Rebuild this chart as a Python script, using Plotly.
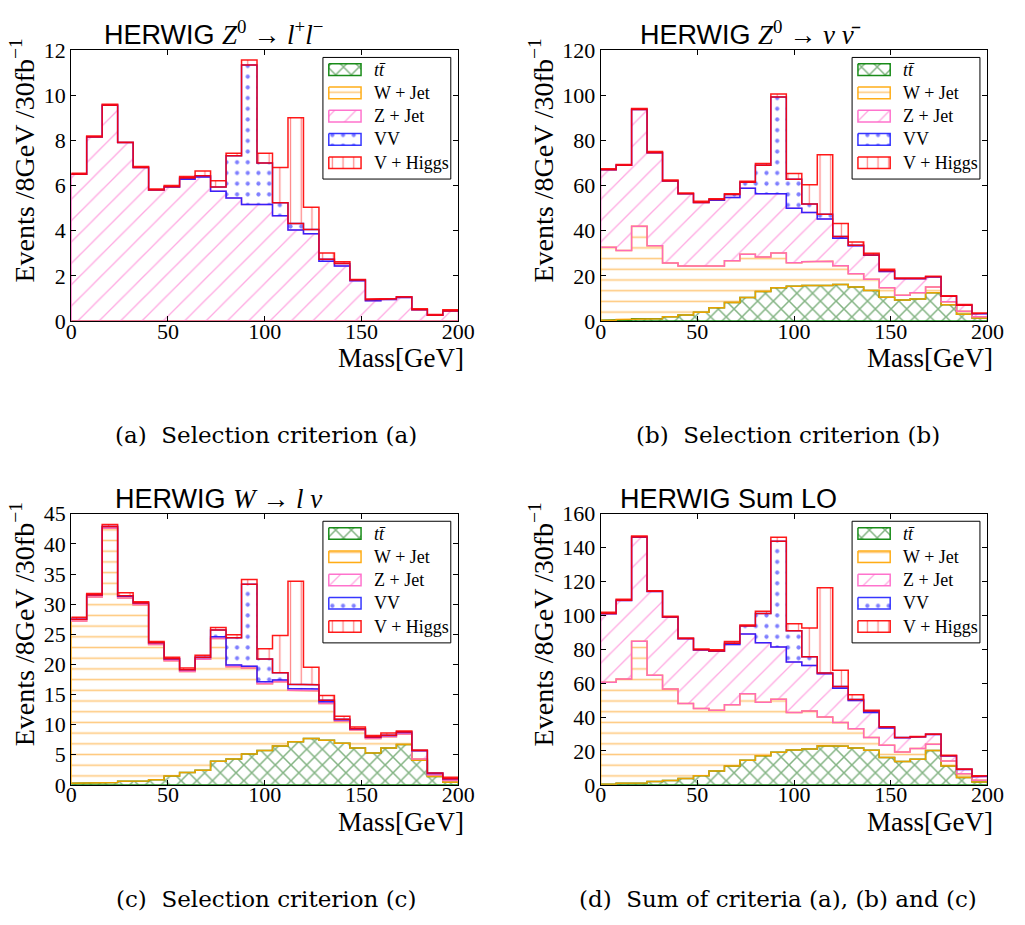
import plotly.graph_objects as go

FIG_W, FIG_H = 1025, 925

# 25 mass bins of 8 GeV between 0 and 200 GeV
bin_edges = list(range(0, 201, 8))

process_names = ["<i>tt̄</i>", "W + Jet", "Z + Jet", "VV", "V + Higgs"]

# ---- (a) Z0 -> l+ l- ----
tt_a = [0, 0, 0, 0, 0, 0, 0, 0, 0, 0, 0, 0, 0, 0, 0, 0, 0, 0, 0, 0, 0, 0, 0, 0, 0]
wj_a = [0, 0, 0, 0, 0, 0, 0, 0, 0, 0.03, 0, 0, 0, 0, 0, 0, 0, 0, 0, 0, 0, 0, 0.03, 0, 0]
zj_a = [6.50, 8.15, 9.55, 7.90, 6.80, 5.80, 5.93, 6.28, 6.38, 5.72, 5.45, 5.16, 5.16,
        4.66, 4.03, 3.87, 2.65, 2.44, 1.79, 0.90, 0.96, 1.05, 0.47, 0.26, 0.45]
vv_a = [0, 0, 0, 0, 0, 0, 0.02, 0.05, 0.05, 0.18, 1.87, 6.17, 1.84,
        0.58, 0.29, 0.18, 0.09, 0.11, 0.03, 0.05, 0.02, 0.02, 0, 0, 0]
vh_a = [0.04, 0.04, 0.05, 0.02, 0.04, 0.05, 0.05, 0.07, 0.21, 0.28, 0.11, 0.22, 0.43,
        1.56, 4.68, 0.99, 0.27, 0.08, 0.02, 0.03, 0.02, 0.01, 0.05, 0.03, 0.05]

# ---- (b) Z0 -> nu nubar ----
tt_b = [0.4, 0.7, 1.0, 1.0, 1.9, 2.7, 3.9, 5.9, 8.2, 10.5, 13.1, 14.8, 15.4,
        15.8, 15.8, 16.2, 15.1, 13.6, 10.6, 9.3, 9.8, 12.5, 7.2, 3.0, 1.4]
wj_b = [32.3, 30.6, 41.0, 32.4, 23.8, 21.7, 20.5, 18.5, 18.5, 19.1, 15.3, 15.3, 10.4,
        10.5, 10.7, 8.3, 5.9, 4.9, 4.2, 2.2, 2.8, 2.6, 1.4, 1.4, 0.5]
zj_b = [34.3, 37.7, 51.7, 41.1, 36.3, 32.0, 28.1, 29.1, 28.0, 29.2, 28.0, 26.3, 24.2,
        21.8, 18.7, 12.2, 12.4, 10.6, 7.2, 7.3, 6.2, 4.4, 2.4, 2.6, 1.4]
vv_b = [0, 0, 0, 0, 0, 0, 0, 0.3, 1.3, 2.7, 12.6, 42.8, 12.8,
        3.7, 2.1, 0.7, 0.2, 0.2, 0.3, 0.1, 0.1, 0.1, 0, 0, 0]
vh_b = [0.4, 0.3, 0.4, 0.6, 0.4, 0.3, 0.5, 0.3, 0.4, 0.4, 0.7, 1.3, 2.5,
        8.5, 26.3, 5.8, 1.4, 0.7, 0.7, 0.2, 0.2, 0.2, 0.2, 0.3, 0.3]

# ---- (c) W -> l nu ----
tt_c = [0.27, 0.3, 0.38, 0.6, 0.65, 0.86, 1.45, 2.05, 2.4, 3.9, 4.3, 5.1, 5.7,
        6.45, 7.15, 7.7, 7.4, 6.9, 6.1, 5.3, 6.1, 6.7, 4.1, 1.4, 0.43]
wj_c = [26.93, 30.9, 42.22, 30.4, 29.25, 22.44, 19.15, 16.75, 18.45, 20.4, 15.3, 14.3, 11.1,
        10.65, 8.55, 7.9, 6.1, 3.7, 3.0, 2.4, 1.9, 1.75, 0.2, 0.25, 0.27]
zj_c = [0.3, 0.3, 0.3, 0.3, 0.3, 0.3, 0.3, 0.3, 0.3, 0.3, 0.3, 0.3, 0.3,
        0.3, 0.3, 0.3, 0.3, 0.2, 0.15, 0.2, 0.2, 0.25, 1.35, 0.25, 0.27]
vv_c = [0, 0, 0, 0.1, 0, 0, 0.05, 0, 0.05, 1.1, 4.5, 13.6, 3.8,
        1.2, 0.7, 0.7, 0.25, 0.1, 0.05, 0.05, 0.05, 0.05, 0.05, 0.05, 0.03]
vh_c = [0.3, 0.25, 0.3, 0.5, 0.2, 0.2, 0.25, 0.3, 0.3, 0.4, 0.5, 0.8, 1.7,
        6.2, 17.1, 2.9, 0.8, 0.5, 0.28, 0.25, 0.35, 0.2, 0.1, 0.0, 0.24]

# ---- (d) sum of the three selections ----
tt_d = [0.4, 1.0, 1.1, 1.9, 2.5, 3.8, 5.4, 8.2, 11.1, 14.5, 17.2, 19.3, 20.5,
        21.1, 23.0, 22.8, 21.8, 20.4, 16.1, 13.8, 15.1, 20.2, 11.1, 4.4, 1.7]
wj_d = [60.1, 61.4, 83.7, 62.8, 54.0, 44.2, 39.6, 35.8, 36.2, 39.3, 31.6, 31.2, 22.2,
        22.5, 17.0, 14.0, 11.3, 7.6, 7.2, 5.6, 6.3, 3.7, 2.9, 2.1, 1.0]
zj_d = [40.5, 46.4, 61.4, 49.4, 42.4, 38.2, 34.6, 34.9, 35.6, 35.2, 35.0, 30.8, 29.8,
        26.8, 25.6, 20.2, 16.7, 14.7, 10.2, 8.4, 6.9, 5.8, 3.0, 2.5, 2.1]
vv_d = [0.1, 0.2, 0.1, 0.1, 0.1, 0.1, 0.2, 0.1, 0.6, 4.8, 17.3, 62.5, 18.4,
        5.2, 0.4, 1.0, 0.5, 0.9, 0.6, 0.1, 0.0, 0.1, 0.2, 0.2, 0.2]
vh_d = [0.8, 0.5, 0.5, 0.4, 0.5, 0.4, 0.4, 0.7, 1.1, 0.6, 1.4, 2.4, 4.2,
        16.9, 50.4, 9.6, 2.9, 0.4, 0.2, 0.1, 0.2, 0.2, 0.2, 0.2, 0.4]

SERIF = "Liberation Serif"
SANS = "Liberation Sans"
CAPTION_FONT = "DejaVu Serif"

# edge colour and hatch for each process, bottom of the stack first
styles = [
    dict(edge="rgba(0,128,0,0.9)", shape="x", fg="#0a6a0a", size=11.1, sol=0.26),
    dict(edge="rgba(255,165,0,0.9)", shape="-", fg="#ff9500", size=10.7, sol=0.15),
    dict(edge="rgba(255,100,200,0.9)", shape="/", fg="#ff55c6", size=15.1, sol=0.09),
    dict(edge="rgba(20,20,255,0.85)", shape=".", fg="#0000ff", size=10.7, sol=0.12),
    dict(edge="rgba(255,0,0,0.9)", shape="|", fg="#ff1010", size=10.7, sol=0.12),
]

# panel frames in pixels: (x0, x1) and (y_top, y_bottom)
LX, RX = (66.7, 462.7), (608.3, 1004.0)
TY, BY = (39.0, 317.7), (515.7, 794.3)

panels = [
    dict(series=[tt_a, wj_a, zj_a, vv_a, vh_a], xpx=LX, ypx=TY, ymax=12, dtick=2,
         title="HERWIG <span style=\"font-family:Liberation Serif\"><i>Z</i><sup>0</sup> → "
               "<i>l</i><sup>+</sup><i>l</i><sup>−</sup></span>",
         title_x=98, ylab_x=17, caption="(a)  Selection criterion (a)", cap_x=266),
    dict(series=[tt_b, wj_b, zj_b, vv_b, vh_b], xpx=RX, ypx=TY, ymax=120, dtick=20,
         title="HERWIG <span style=\"font-family:Liberation Serif\"><i>Z</i><sup>0</sup> → "
               "<i>ν</i> <i>ν̄</i></span>",
         title_x=646, ylab_x=548, caption="(b)  Selection criterion (b)", cap_x=800),
    dict(series=[tt_c, wj_c, zj_c, vv_c, vh_c], xpx=LX, ypx=BY, ymax=45, dtick=5,
         title="HERWIG <span style=\"font-family:Liberation Serif\"><i>W</i> → "
               "<i>l</i> <i>ν</i></span>",
         title_x=109, ylab_x=17, caption="(c)  Selection criterion (c)", cap_x=266),
    dict(series=[tt_d, wj_d, zj_d, vv_d, vh_d], xpx=RX, ypx=BY, ymax=160, dtick=20,
         title="HERWIG Sum LO",
         title_x=626, ylab_x=548, caption="(d)  Sum of criteria (a), (b) and (c)", cap_x=790),
]


def fx(p):
    return p / FIG_W


def fy(p):
    return 1 - p / FIG_H


def layer_polygon(lower, upper):
    """Closed step outline of one stacked histogram layer."""
    xs, ys = [], []
    for i in range(len(upper)):
        xs += [bin_edges[i], bin_edges[i + 1]]
        ys += [upper[i], upper[i]]
    for i in reversed(range(len(lower))):
        xs += [bin_edges[i + 1], bin_edges[i]]
        ys += [lower[i], lower[i]]
    xs.append(xs[0])
    ys.append(ys[0])
    return xs, ys


def pattern(st):
    return dict(shape=st["shape"], fgcolor=st["fg"], bgcolor="rgba(0,0,0,0)",
                size=st["size"], solidity=st["sol"], fillmode="overlay")


fig = go.Figure()
layout = dict(width=FIG_W, height=FIG_H, autosize=False,
              margin=dict(l=0, r=0, t=0, b=0),
              paper_bgcolor="white", plot_bgcolor="rgba(0,0,0,0)",
              showlegend=False, font=dict(family=SERIF, size=20, color="black"))
annotations, shapes = [], []

for n, p in enumerate(panels):
    sfx = "" if n == 0 else str(n + 1)
    xref, yref = "x" + sfx, "y" + sfx
    lower = [0.0] * (len(bin_edges) - 1)
    for vals, st in zip(p["series"], styles):
        upper = [lo + v for lo, v in zip(lower, vals)]
        xs, ys = layer_polygon(lower, upper)
        fig.add_trace(go.Scatter(
            x=xs, y=ys, mode="lines", fill="toself", fillcolor="rgba(0,0,0,0)",
            fillpattern=pattern(st), line=dict(color=st["edge"], width=1.5),
            hoverinfo="skip", xaxis=xref, yaxis=yref))
        lower = upper

    ax_common = dict(showline=True, linecolor="black", linewidth=1, mirror="allticks",
                     ticks="inside", ticklen=5, tickwidth=1, tickcolor="black",
                     showgrid=False, zeroline=False, fixedrange=True,
                     tickfont=dict(family=SERIF, size=22, color="black"))
    x0, x1 = p["xpx"]
    yt, yb = p["ypx"]
    layout["xaxis" + sfx] = dict(ax_common, domain=[fx(x0), fx(x1)], range=[0, 200],
                                 tickvals=[0, 50, 100, 150, 200], anchor=yref,
                                 ticklabelstandoff=-10)
    layout["yaxis" + sfx] = dict(ax_common, domain=[fy(yb), fy(yt)], range=[0, p["ymax"]],
                                 dtick=p["dtick"], tick0=0, anchor=xref, ticklabelstandoff=0)

    # panel title, anchored below so superscripts do not shift it
    annotations.append(dict(text=p["title"], xref="paper", yref="paper",
                            x=fx(p["title_x"]), y=fy(yt + 2.5), xanchor="left", yanchor="bottom",
                            showarrow=False, font=dict(family=SANS, size=27, color="black")))
    # axis titles
    annotations.append(dict(text="Events /8GeV /30fb<sup>−1</sup>", xref="paper", yref="paper",
                            x=fx(p["ylab_x"]), y=fy(yt + 114), textangle=-90,
                            xanchor="center", yanchor="middle", showarrow=False,
                            font=dict(family=SERIF, size=28, color="black")))
    annotations.append(dict(text="Mass[GeV]", xref="paper", yref="paper",
                            x=fx(x1 + 8), y=fy(yb + 38), xanchor="right", yanchor="middle",
                            showarrow=False, font=dict(family=SERIF, size=27, color="black")))
    # sub-figure caption
    annotations.append(dict(text=p["caption"], xref="paper", yref="paper",
                            x=fx(p["cap_x"]), y=fy(yb + 117), xanchor="center", yanchor="middle",
                            showarrow=False, font=dict(family=CAPTION_FONT, size=23, color="black")))

    # legend box in the upper right corner of the panel
    bx0, bx1 = x1 - 138.5, x1 - 7.7
    by0, by1 = yt + 7.7, yt + 132.7
    shapes.append(dict(type="rect", xref="paper", yref="paper",
                       x0=fx(bx0), x1=fx(bx1), y0=fy(by1), y1=fy(by0),
                       line=dict(color="black", width=1), fillcolor="white", layer="below"))
    for k, (name, st) in enumerate(zip(process_names, styles)):
        cy = by0 + 12.6 + 23.9 * k
        sx0, sx1 = bx0 + 6, bx0 + 39
        fig.add_trace(go.Scatter(
            x=[sx0, sx1, sx1, sx0, sx0], y=[cy - 6, cy - 6, cy + 6, cy + 6, cy - 6],
            mode="lines", fill="toself", fillcolor="rgba(0,0,0,0)",
            fillpattern=pattern(st), line=dict(color=st["edge"], width=1.5),
            hoverinfo="skip", xaxis="x5", yaxis="y5"))
        annotations.append(dict(text=name, xref="paper", yref="paper",
                                x=fx(bx0 + 50), y=fy(cy), xanchor="left", yanchor="middle",
                                showarrow=False, font=dict(family=SERIF, size=18, color="black")))

# full-figure overlay in pixel units that carries the legend swatches
layout["xaxis5"] = dict(domain=[0, 1], range=[0, FIG_W], visible=False, fixedrange=True, anchor="y5")
layout["yaxis5"] = dict(domain=[0, 1], range=[FIG_H, 0], visible=False, fixedrange=True, anchor="x5")
layout["annotations"] = annotations
layout["shapes"] = shapes
fig.update_layout(**layout)

fig.write_html("out.html")
